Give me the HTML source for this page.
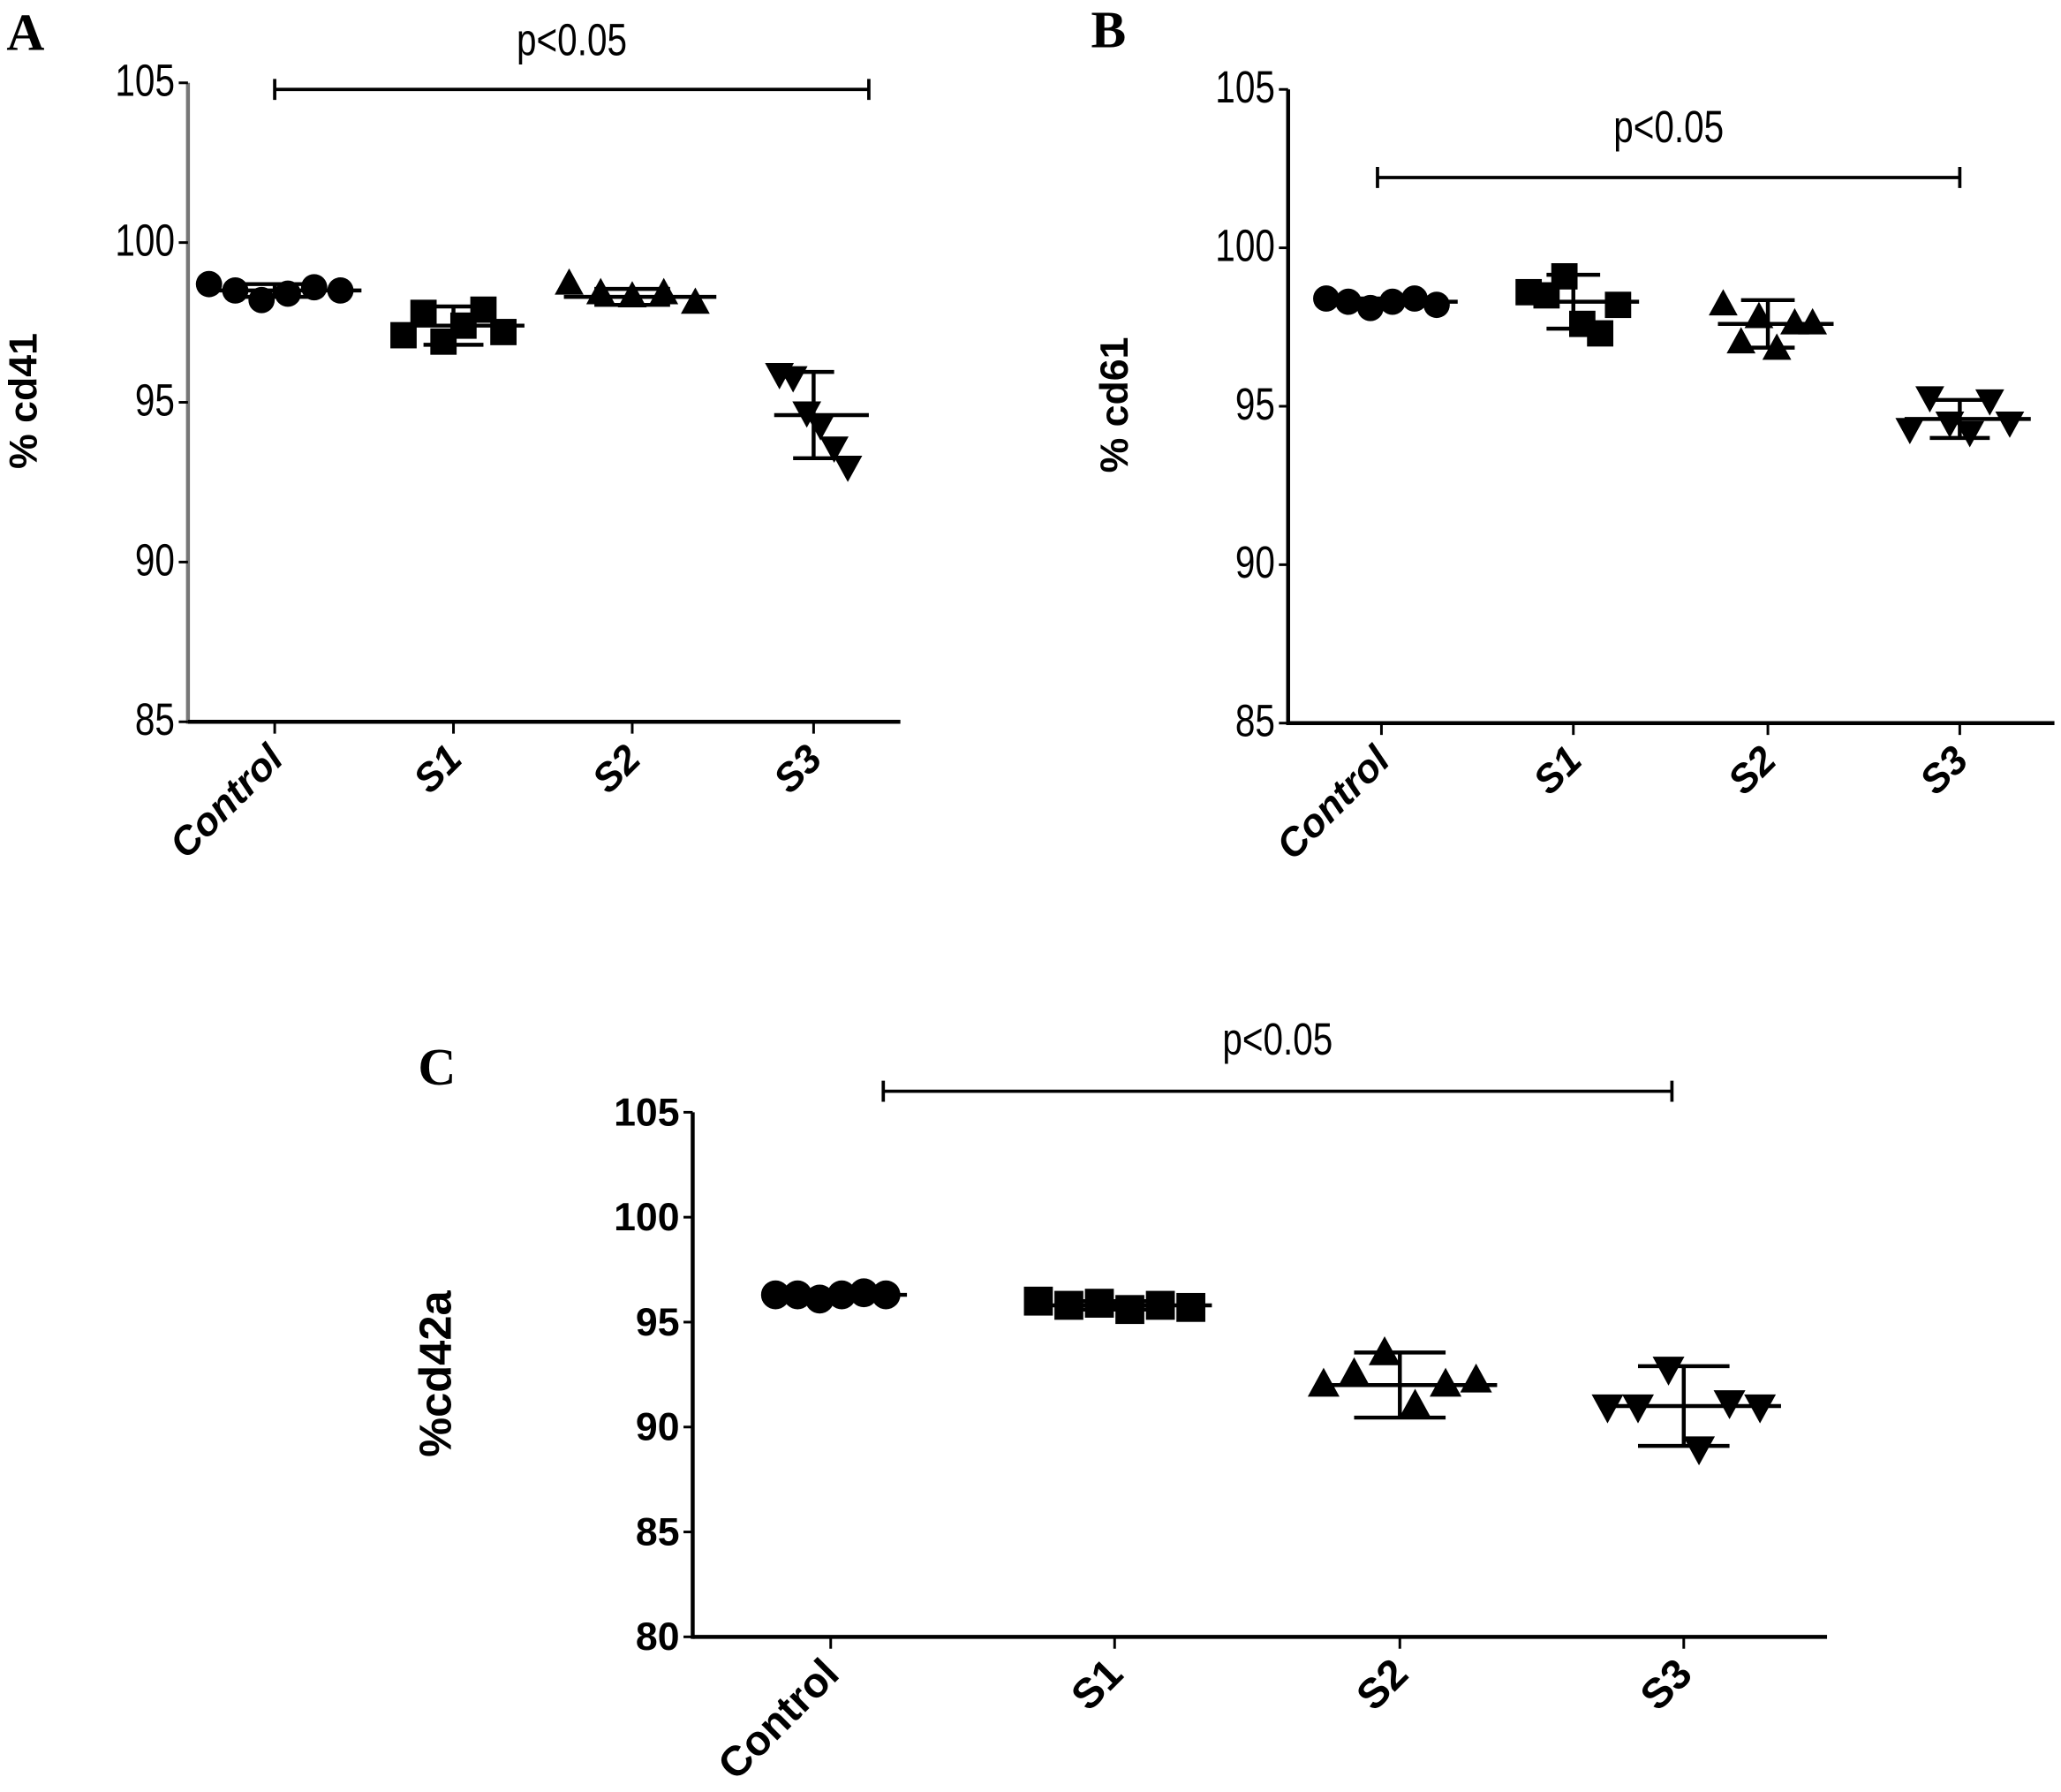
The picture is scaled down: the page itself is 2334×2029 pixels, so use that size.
<!DOCTYPE html>
<html><head><meta charset="utf-8"><style>
html,body{margin:0;padding:0;background:#fff;}
svg{display:block;}
text{font-family:"Liberation Sans",Arial,sans-serif;fill:#000;}
</style></head><body>
<svg id="fig" width="2334" height="2029" viewBox="0 0 1568 1363" preserveAspectRatio="none" xmlns="http://www.w3.org/2000/svg"></svg>
<script>
const categories = ["Control","S1","S2","S3"];
const categoriesC = ["Control","S1","S2","S3"];
const ticksAB = [85,90,95,100,105];
const ticksC = [80,85,90,95,100,105];
const aPoints = [[98.7,98.5,98.2,98.4,98.6,98.5],[97.1,97.8,96.9,97.4,97.9,97.2],[98.7,98.4,98.3,98.4,98.1],[95.9,95.8,94.7,94.3,93.6,93.0]];
const aMean = [98.5,97.4,98.3,94.6];
const aSd = [0.2,0.6,0.25,1.35];
const bPoints = [[98.4,98.3,98.1,98.3,98.4,98.2],[98.6,98.5,99.1,97.6,97.3,98.2],[98.2,97.0,97.8,96.8,97.6,97.6],[94.3,95.3,94.5,94.2,95.2,94.5]];
const bMean = [98.3,98.3,97.6,94.6];
const bSd = [0.1,0.85,0.75,0.6];
const cPoints = [[96.3,96.3,96.1,96.3,96.4,96.3],[96.0,95.8,95.9,95.6,95.8,95.7],[92.0,92.5,93.5,91.0,92.0,92.2],[91.0,91.0,92.8,89.0,91.2,91.0]];
const cMean = [96.3,95.8,92.0,91.0];
const cSd = [0.15,0.2,1.55,1.9];

const NS="http://www.w3.org/2000/svg";
const svg=document.getElementById('fig');
function mk(tag,attrs,parent){const e=document.createElementNS(NS,tag);for(const k in attrs)e.setAttribute(k,attrs[k]);(parent||svg).appendChild(e);return e;}
const shapes=['circle','square','up','down'];
function marker(g,shape,x,y,s){
  let e;
  if(shape==='circle'){e=mk('circle',{cx:x,cy:y,r:s},g);}
  else if(shape==='square'){e=mk('rect',{x:x-s,y:y-s,width:2*s,height:2*s},g);}
  else if(shape==='up'){e=mk('polygon',{points:`${x},${y-s*1.2} ${x-s*1.1},${y+s*0.8} ${x+s*1.1},${y+s*0.8}`},g);}
  else {e=mk('polygon',{points:`${x},${y+s*1.2} ${x-s*1.1},${y-s*0.8} ${x+s*1.1},${y-s*0.8}`},g);}
  e.setAttribute('fill','#000');
  
  
}
function panel(o){
  const g=mk('g',{});
  
  
  const y=v=>o.y0+(v-o.vmin)/(o.vmax-o.vmin)*(o.y1-o.y0);
  const ax=mk('line',{x1:o.ax,y1:y(o.vmax),x2:o.ax,y2:y(o.vmin)+1.5,stroke:o.axColor,'stroke-width':3},g);
  
  
  const xa=mk('line',{x1:o.ax,y1:y(o.vmin),x2:o.xEnd,y2:y(o.vmin),stroke:'#000','stroke-width':3},g);
  
  
  o.ticks.forEach(t=>{
    mk('line',{x1:o.ax-7,y1:y(t),x2:o.ax,y2:y(t),stroke:'#000','stroke-width':2},g);
    const tx=mk('text',{x:o.ax-10,y:y(t)+10,'text-anchor':'end','font-size':o.tfs,'font-weight':o.tfw,transform:o.narrow?`translate(${o.ax-10},0) scale(0.8,1) translate(${-(o.ax-10)},0)`:''},g);
    tx.textContent=t;
    
    
  });
  o.cats.forEach((c,i)=>{
    const cx=o.cx[i];
    mk('line',{x1:cx,y1:y(o.vmin),x2:cx,y2:y(o.vmin)+9,stroke:'#000','stroke-width':2},g);
    const lx=cx+8, ly=y(o.vmin)+30;
    const tx=mk('text',{x:lx,y:ly,'text-anchor':'end','font-size':o.cfs,'font-weight':'bold','font-style':o.italic?'italic':'normal',transform:`rotate(-45 ${lx} ${ly})`},g);
    tx.textContent=c;
    
    
    const sp=o.spread[i];
    const pts=o.points[i];const n=pts.length;
    pts.forEach((v,j)=>{marker(g,shapes[i],cx-sp+j*(2*sp)/(n-1),y(v),o.ms);});
    const m=o.mean[i],sd=o.sd[i];
    mk('line',{x1:cx-sp-4,y1:y(m),x2:cx+sp+16,y2:y(m),stroke:'#000','stroke-width':3},g);
    mk('line',{x1:cx,y1:y(m+sd),x2:cx,y2:y(m-sd),stroke:'#000','stroke-width':3},g);
    mk('line',{x1:cx-sp*0.6,y1:y(m+sd),x2:cx+sp*0.6,y2:y(m+sd),stroke:'#000','stroke-width':3},g);
    mk('line',{x1:cx-sp*0.6,y1:y(m-sd),x2:cx+sp*0.6,y2:y(m-sd),stroke:'#000','stroke-width':3},g);
  });
  const b=o.br;
  const bl=mk('path',{d:`M${b[0]},${b[2]} H${b[1]} M${b[0]},${b[2]-8} V${b[2]+8} M${b[1]},${b[2]-8} V${b[2]+8}`,stroke:'#000','stroke-width':2.5,fill:'none'},g);
  
  
  const pt=mk('text',{x:(b[0]+b[1])/2,y:b[3],'text-anchor':'middle','font-size':34,transform:`translate(${(b[0]+b[1])/2},0) scale(0.8,1) translate(${-(b[0]+b[1])/2},0)`},g);
  pt.textContent='p<0.05';
  
  
  const yt=mk('text',{x:o.yt[0],y:o.yt[1],'text-anchor':'middle','font-size':o.ytfs,'font-weight':'bold',transform:`rotate(-90 ${o.yt[0]} ${o.yt[1]})`},g);
  yt.textContent=o.ytitle;
  
  
  const lt=mk('text',{x:o.letter[0],y:o.letter[1],'font-size':40,'font-weight':'bold',style:'font-family:"Liberation Serif",serif'},g);
  lt.textContent=o.letterT;
  
  
}
panel({name:'panel-a',ax:143,xEnd:685,y0:549,y1:63,vmin:85,vmax:105,ticks:ticksAB,cats:categories,cx:[209,345,481,619],points:aPoints,mean:aMean,sd:aSd,spread:[50,38,48,26],ms:10,br:[209,661,68,42],ytitle:'% cd41',ytfs:30,yt:[28,305],letter:[5,38],letterT:'A',tfs:34,tfw:'normal',narrow:true,cfs:30,italic:true,axColor:'#777'});
panel({name:'panel-b',ax:980,xEnd:1563,y0:550,y1:68,vmin:85,vmax:105,ticks:ticksAB,cats:categories,cx:[1051,1197,1345,1491],points:bPoints,mean:bMean,sd:bSd,spread:[42,34,34,38],ms:10,br:[1048,1491,135,108],ytitle:'% cd61',ytfs:30,yt:[858,308],letter:[830,36],letterT:'B',tfs:34,tfw:'normal',narrow:true,cfs:30,italic:true,axColor:'#000'});
panel({name:'panel-c',ax:527,xEnd:1390,y0:1245,y1:846,vmin:80,vmax:105,ticks:ticksC,cats:categoriesC,cx:[632,848,1065,1281],points:cPoints,mean:cMean,sd:cSd,spread:[42,58,58,58],ms:11,br:[672,1272,830,802],ytitle:'%cd42a',ytfs:34,yt:[343,1045],letter:[318,825],letterT:'C',tfs:30,tfw:'bold',narrow:false,cfs:32,italic:false,axColor:'#000'});
</script>
</body></html>
